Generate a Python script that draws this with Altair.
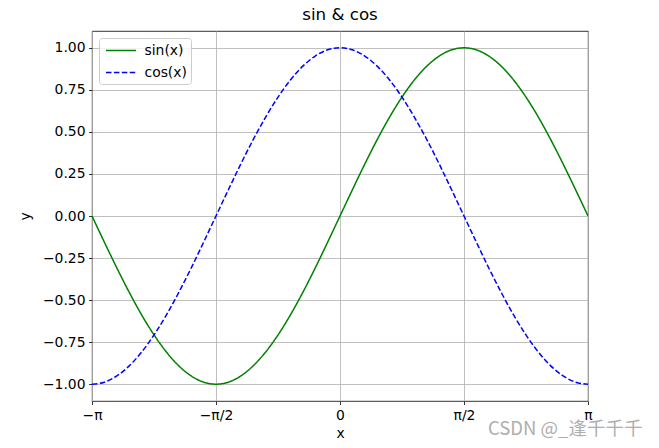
import altair as alt
import pandas as pd

# x positions (radians) from -pi to pi
x_vals = [-3.142, -2.985, -2.827, -2.670, -2.513, -2.356, -2.199, -2.042, -1.885, -1.728,
          -1.571, -1.414, -1.257, -1.100, -0.942, -0.785, -0.628, -0.471, -0.314, -0.157,
          0.000, 0.157, 0.314, 0.471, 0.628, 0.785, 0.942, 1.100, 1.257, 1.414,
          1.571, 1.728, 1.885, 2.042, 2.199, 2.356, 2.513, 2.670, 2.827, 2.985, 3.142]
sin_vals = [0.000, -0.156, -0.309, -0.454, -0.588, -0.707, -0.809, -0.891, -0.951, -0.988,
            -1.000, -0.988, -0.951, -0.891, -0.809, -0.707, -0.588, -0.454, -0.309, -0.156,
            0.000, 0.156, 0.309, 0.454, 0.588, 0.707, 0.809, 0.891, 0.951, 0.988,
            1.000, 0.988, 0.951, 0.891, 0.809, 0.707, 0.588, 0.454, 0.309, 0.156, 0.000]
cos_vals = [-1.000, -0.988, -0.951, -0.891, -0.809, -0.707, -0.588, -0.454, -0.309, -0.156,
            0.000, 0.156, 0.309, 0.454, 0.588, 0.707, 0.809, 0.891, 0.951, 0.988,
            1.000, 0.988, 0.951, 0.891, 0.809, 0.707, 0.588, 0.454, 0.309, 0.156,
            0.000, -0.156, -0.309, -0.454, -0.588, -0.707, -0.809, -0.891, -0.951, -0.988, -1.000]
series_names = ["sin(x)", "cos(x)"]
series_colors = ["green", "blue"]
x_tick_values = [-3.142, -1.571, 0.0, 1.571, 3.142]
x_tick_labels = ["−π", "−π/2", "0", "π/2", "π"]
y_tick_values = [-1.0, -0.75, -0.5, -0.25, 0.0, 0.25, 0.5, 0.75, 1.0]

rows = []
for i, xv in enumerate(x_vals):
    rows.append({"x": xv, "y": sin_vals[i], "series": series_names[0], "order": i})
    rows.append({"x": xv, "y": cos_vals[i], "series": series_names[1], "order": i})
df = pd.DataFrame(rows)

label_expr = (
    "datum.value < -2 ? '" + x_tick_labels[0] + "' : datum.value < -1 ? '" + x_tick_labels[1]
    + "' : datum.value < 1 && datum.value > -1 ? '" + x_tick_labels[2]
    + "' : datum.value < 2 ? '" + x_tick_labels[3] + "' : '" + x_tick_labels[4] + "'"
)

FONT = "DejaVu Sans"

lines = alt.Chart(df).mark_line(strokeWidth=1.5, interpolate="monotone", clip=True).encode(
    x=alt.X("x:Q", title="x",
            scale=alt.Scale(domain=[-3.142, 3.142], nice=False, zero=False),
            axis=alt.Axis(values=x_tick_values, labelExpr=label_expr)),
    y=alt.Y("y:Q", title="y",
            scale=alt.Scale(domain=[-1.1, 1.1], nice=False, zero=False),
            axis=alt.Axis(values=y_tick_values, format=".2f")),
    color=alt.Color("series:N",
                    scale=alt.Scale(domain=series_names, range=series_colors),
                    sort=series_names,
                    legend=alt.Legend(title=None, orient="none", legendX=7, legendY=7,
                                      symbolType="M-2,0H2", symbolSize=225,
                                      symbolStrokeWidth=1.5, symbolOffset=9.5,
                                      labelFont=FONT, labelFontSize=13.9,
                                      labelColor="black", labelOffset=15,
                                      rowPadding=6, padding=4,
                                      strokeColor="#cccccc", fillColor="rgba(255,255,255,0.8)",
                                      cornerRadius=3)),
    strokeDash=alt.StrokeDash("series:N",
                              scale=alt.Scale(domain=series_names, range=[[1, 0], [5.5, 2.4]]),
                              sort=series_names, legend=None),
    order="order:Q",
)

watermark = alt.Chart(pd.DataFrame({"t": ["CSDN @_逢千千千"]})).mark_text(
    font="Noto Sans CJK SC", fontSize=18.5, color="#9a9a9a", opacity=0.8,
    align="left", baseline="middle",
).encode(text="t:N", x=alt.value(396), y=alt.value(398))

chart = alt.layer(lines, watermark).properties(
    width=496, height=370,
    title=alt.TitleParams("sin & cos", font=FONT, fontSize=16.7, fontWeight="normal",
                          color="black", offset=7),
    autosize=alt.AutoSizeParams(type="none"),
    padding={"left": 92, "top": 31, "right": 71, "bottom": 47},
).configure_view(stroke="black", strokeWidth=0.8).configure_axis(
    labelFont=FONT, labelFontSize=13.9, labelColor="black",
    titleFont=FONT, titleFontSize=13.9, titleFontWeight="normal", titleColor="black",
    grid=True, gridColor="#b0b0b0", gridWidth=0.8,
    domain=False, tickColor="black", tickSize=3.5, tickWidth=0.8, labelPadding=3.5,
).configure_axisY(titlePadding=10, labelFlush=False).configure_axisX(
    titlePadding=5, labelFlush=False
)

chart.save("out.html", embed_options={"renderer": "svg", "actions": False})
